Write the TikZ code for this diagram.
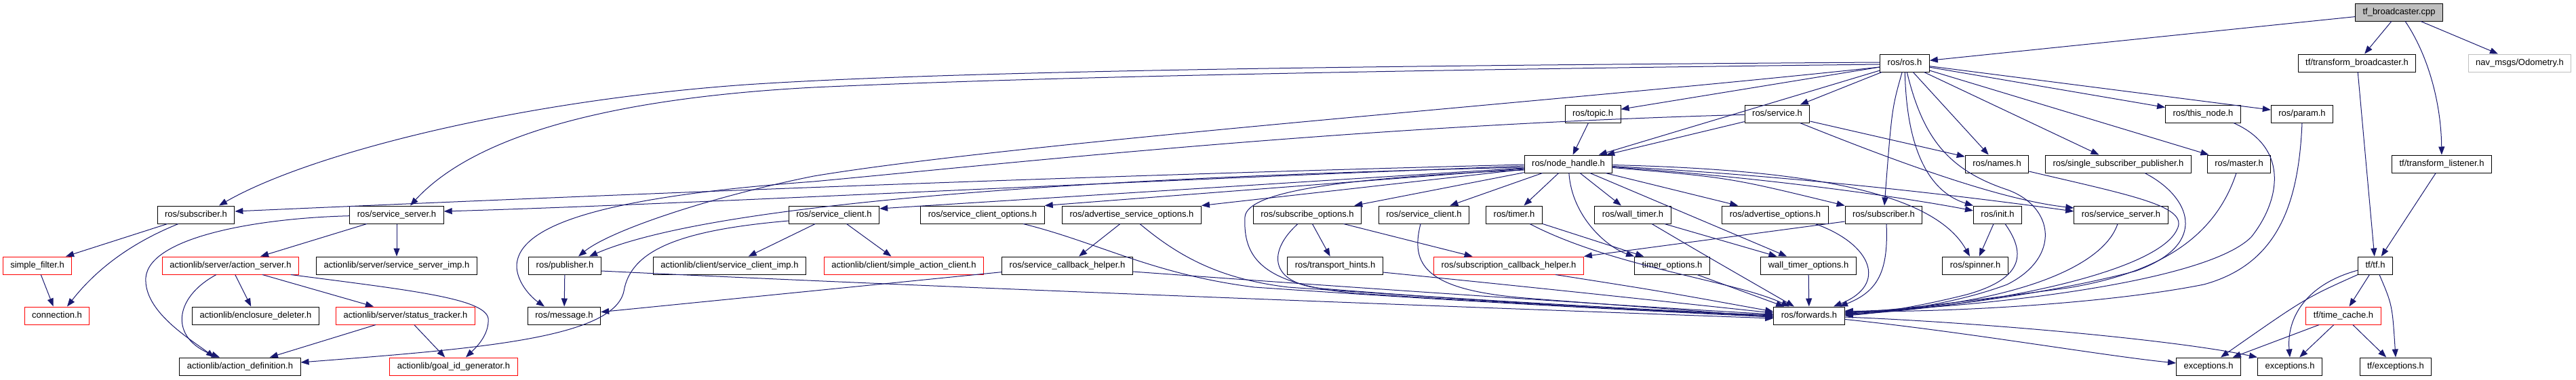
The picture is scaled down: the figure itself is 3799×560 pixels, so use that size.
\documentclass[tikz,border=0pt]{standalone}
\usepackage{fontspec}
\setmainfont{Liberation Sans}
\usetikzlibrary{arrows.meta}
\definecolor{edgeblue}{HTML}{191970}
\definecolor{boxgrey}{HTML}{BFBFBF}
\begin{document}
\begin{tikzpicture}[x=1pt, y=-1pt, font=\fontsize{13}{15}\selectfont,
  hdr/.style={draw=black, line width=1pt, fill=white, minimum height=26pt, inner xsep=11pt, inner ysep=0pt, text height=9.5pt, text depth=2.5pt},
  redhdr/.style={hdr, draw=red},
  greyhdr/.style={hdr, draw=boxgrey},
  srchdr/.style={hdr, fill=boxgrey},
  dep/.style={draw=edgeblue, line width=1pt, -{Triangle[length=12pt,width=9pt]}}]
\fill[white] (0,0) rectangle (3799,560);
\useasboundingbox (0,0) rectangle (3799,560);
\node[srchdr] (tfb) at (3538,18) {tf\_broadcaster.cpp};
\node[greyhdr] (odom) at (3716,93) {nav\_msgs/Odometry.h};
\foreach \n/\x/\y/\l in {ros/2809/93/{ros/ros.h}, tftb/3476/93/{tf/transform\_broadcaster.h}, topic/2349/168/{ros/topic.h}, srv/2621/168/{ros/service.h}, thisnode/3249/168/{ros/this\_node.h}, param/3395/168/{ros/param.h}, nh/2313/242/{ros/node\_handle.h}, names/2945/242/{ros/names.h}, ssp/3124/242/{ros/single\_subscriber\_publisher.h}, master/3302/242/{ros/master.h}, tftl/3601/242/{tf/transform\_listener.h}} {\node[hdr] (\n) at (\x,\y) {\l};}
\foreach \n/\x/\y/\l in {subL/289/317/{ros/subscriber.h}, ssL/585/317/{ros/service\_server.h}, scA/1230/317/{ros/service\_client.h}, sco/1449/317/{ros/service\_client\_options.h}, aso/1669/317/{ros/advertise\_service\_options.h}, subopt/1928/317/{ros/subscribe\_options.h}, scB/2100/317/{ros/service\_client.h}, timer/2233/317/{ros/timer.h}, wtimer/2408/317/{ros/wall\_timer.h}, advopt/2618/317/{ros/advertise\_options.h}, subR/2778/317/{ros/subscriber.h}, init/2946/317/{ros/init.h}, ssR/3128/317/{ros/service\_server.h}} {\node[hdr] (\n) at (\x,\y) {\l};}
\foreach \n/\x/\y/\l in {ssimp/585/392/{actionlib/server/service\_server\_imp.h}, pub/833/392/{ros/publisher.h}, scimp/1076/392/{actionlib/client/service\_client\_imp.h}, sch/1574/392/{ros/service\_callback\_helper.h}, thints/1969/392/{ros/transport\_hints.h}, topts/2466/392/{timer\_options.h}, wtopts/2667/392/{wall\_timer\_options.h}, spinner/2913/392/{ros/spinner.h}, tftf/3503/392/{tf/tf.h}, encl/377/466/{actionlib/enclosure\_deleter.h}, msg/832/466/{ros/message.h}, fwd/2668/466/{ros/forwards.h}, adef/354/541/{actionlib/action\_definition.h}, exc1/3257/541/{exceptions.h}, exc2/3377/541/{exceptions.h}, tfexc/3533/541/{tf/exceptions.h}} {\node[hdr] (\n) at (\x,\y) {\l};}
\foreach \n/\x/\y/\l in {sfilter/55/392/{simple\_filter.h}, aserver/340/392/{actionlib/server/action\_server.h}, sac/1333/392/{actionlib/client/simple\_action\_client.h}, subcb/2225/392/{ros/subscription\_callback\_helper.h}, conn/84/466/{connection.h}, stracker/598/466/{actionlib/server/status\_tracker.h}, tcache/3456/466/{tf/time\_cache.h}, goalid/669/541/{actionlib/goal\_id\_generator.h}} {\node[redhdr] (\n) at (\x,\y) {\l};}
% straight includes
\foreach \a/\b in {tfb/ros, tfb/tftb, tfb/odom, tftb/tftf, tftl/tftf, tftf/tcache, tcache/exc1, tcache/exc2, tcache/tfexc, ros/topic, ros/nh, ros/srv, ros/names, ros/ssp, ros/thisnode, ros/param, ros/master, srv/nh, srv/names, topic/nh, nh/subopt, nh/scB, nh/timer, nh/wtimer, nh/advopt, nh/wtopts, subL/sfilter, sfilter/conn, ssL/aserver, ssL/ssimp, aserver/encl, aserver/stracker, stracker/adef, stracker/goalid, scA/scimp, scA/sac, pub/msg, aso/sch, sch/msg, subopt/thints, subopt/subcb, timer/topts, wtimer/wtopts, wtopts/fwd, topts/fwd, init/spinner} {\draw[dep] (\a) -- (\b);}
% routed includes
\draw[dep] (tfb) .. controls (3580,80) and (3600,150) .. (tftl);
\draw[dep] (tftf.south west) .. controls (3400,440) .. ([xshift=18pt]exc1.north);
\draw[dep] (tftf) .. controls (3400,420) and (3372,470) .. (exc2.north);
\draw[dep] ([xshift=6pt]tftf.south) .. controls (3528,450) .. (tfexc.north);
\draw[dep] (fwd) .. controls (2900,490) and (3100,525) .. ([yshift=5pt]exc1.west);
\draw[dep] (fwd) .. controls (2900,475) and (3200,500) .. (exc2.north west);
\draw[dep] ([yshift=1pt]ros.west) .. controls (2000,97) and (1400,105) .. (1100,125) .. controls (750,150) and (450,230) .. ([xshift=34pt]subL.north);
\draw[dep] ([yshift=-2pt]ros.west) .. controls (2000,104) and (1500,115) .. (1200,129) .. controls (900,145) and (700,200) .. ([xshift=20pt]ssL.north);
\draw[dep] ([yshift=-6pt]ros.west) .. controls (2300,150) and (1500,210) .. (1200,260) .. controls (1050,290) and (900,340) .. ([xshift=20pt]pub.north);
\draw[dep] (ros) .. controls (2790,160) .. (subR);
\draw[dep] (ros) .. controls (2812,230) and (2850,285) .. (init.north west);
\draw[dep] (ros) .. controls (2835,200) and (2870,250) .. (2960,280) .. controls (3030,305) and (3040,380) .. (2960,420) .. controls (2880,450) and (2780,462) .. ([yshift=2pt]fwd.east);
\draw[dep] (srv) .. controls (2000,185) and (1500,240) .. (1200,268) .. controls (900,290) and (760,330) .. (762,395) .. controls (764,420) and (785,440) .. ([xshift=-29pt]msg.north);
\draw[dep] (srv) .. controls (2800,240) and (2950,295) .. ([yshift=10pt]ssR.west);
\draw[dep] ([yshift=-1pt]nh.west) .. controls (1500,262) and (800,292) .. ([yshift=5pt]subL.east);
\draw[dep] ([yshift=-3pt]nh.west) .. controls (1600,270) and (1000,302) .. ([yshift=5pt]ssL.east);
\draw[dep] ([yshift=-5pt]nh.west) .. controls (1600,262) and (1050,300) .. ([xshift=36pt]pub.north);
\draw[dep] ([yshift=-6pt]nh.west) -- ([yshift=9pt]scA.east);
\draw[dep] ([yshift=-7pt]nh.west) -- (sco.north east);
\draw[dep] ([yshift=-8pt]nh.west) -- (aso.north east);
\draw[dep] ([yshift=-9pt]nh.west) .. controls (2000,262) and (1840,280) .. (1836,320) .. controls (1833,380) and (1860,420) .. (2000,433) .. controls (2300,452) and (2500,462) .. (fwd);
\draw[dep] (nh) .. controls (2318,320) and (2370,365) .. (topts.north west);
\draw[dep] (nh) .. controls (2550,262) .. (subR.north west);
\draw[dep] (nh) .. controls (2600,262) and (2800,290) .. ([yshift=6pt]init.west);
\draw[dep] (nh) .. controls (2650,260) and (2900,290) .. ([yshift=5pt]ssR.west);
\draw[dep] (nh) .. controls (2650,250) and (2850,280) .. ([xshift=-8pt]spinner.north);
\draw[dep] (ssL) .. controls (380,322) and (220,350) .. (215,410) .. controls (212,460) and (280,500) .. ([xshift=-38pt]adef.north);
\draw[dep] ([xshift=-21pt]aserver.south) .. controls (255,440) and (250,500) .. ([xshift=-30pt]adef.north);
\draw[dep] ([xshift=89pt]aserver.south) .. controls (600,428) and (715,440) .. (720,470) .. controls (722,495) and (700,515) .. ([xshift=18pt]goalid.north);
\draw[dep] ([xshift=-26pt]subL.south) .. controls (190,360) and (140,400) .. ([xshift=15pt]conn.north);
\draw[dep] ([yshift=-9pt]scA.west) .. controls (1000,340) and (930,370) .. (920,430) .. controls (905,500) and (700,515) .. ([yshift=6pt]adef.east);
\draw[dep] ([yshift=-8pt]pub.east) .. controls (1400,425) and (2200,455) .. ([yshift=-4pt]fwd.west);
\draw[dep] ([xshift=60pt]sco.south) .. controls (1620,358) and (1700,405) .. (1850,424) .. controls (2200,448) and (2450,460) .. ([yshift=-2pt]fwd.west);
\draw[dep] ([xshift=12pt]aso.south) .. controls (1740,380) and (1800,412) .. (1900,424) .. controls (2200,445) and (2450,458) .. (fwd.west);
\draw[dep] ([yshift=-9pt]sch.east) .. controls (2000,425) and (2400,452) .. ([yshift=2pt]fwd.west);
\draw[dep] ([xshift=-14pt]subopt.south) .. controls (1870,370) and (1870,418) .. (1950,426) .. controls (2200,446) and (2450,460) .. ([yshift=-1pt]fwd.west);
\draw[dep] ([xshift=-5pt]scB.south) .. controls (2080,390) and (2100,428) .. (2250,440) .. controls (2400,452) and (2550,462) .. ([yshift=-3pt]fwd.west);
\draw[dep] ([yshift=-10pt]thints.east) .. controls (2300,428) and (2500,450) .. ([yshift=4pt]fwd.west);
\draw[dep] ([xshift=69pt]subcb.south) .. controls (2450,430) .. ([yshift=6pt]fwd.west);
\draw[dep] ([xshift=23pt]timer.south) .. controls (2380,395) and (2560,415) .. ([xshift=-29pt]fwd.north);
\draw[dep] ([xshift=28pt]wtimer.south) .. controls (2520,380) .. ([xshift=-22pt]fwd.north);
\draw[dep] ([xshift=4pt]subR.south) .. controls (2785,400) and (2770,430) .. ([xshift=45pt]fwd.north);
\draw[dep] ([xshift=59pt]advopt.south) .. controls (2760,360) and (2785,420) .. ([xshift=36pt]fwd.north);
\draw[dep] ([yshift=-10pt]subR.west) -- (subcb.north east);
\draw[dep] ([xshift=11pt]init.south) .. controls (2985,370) and (2990,410) .. (2900,435) .. controls (2820,455) and (2760,463) .. (fwd.east);
\draw[dep] ([yshift=-11pt]names.east) .. controls (3150,290) and (3230,305) .. (3210,340) .. controls (3180,400) and (2950,450) .. ([yshift=1pt]fwd.east);
\draw[dep] ([xshift=39pt]ssp.south) .. controls (3230,290) and (3260,360) .. (3150,400) .. controls (3000,440) and (2800,460) .. ([yshift=3pt]fwd.east);
\draw[dep] ([xshift=-5pt]ssR.south) .. controls (3100,400) and (2950,452) .. ([yshift=4pt]fwd.east);
\draw[dep] ([xshift=-4pt]master.south) .. controls (3270,340) and (3200,400) .. (3050,425) .. controls (2900,445) and (2780,460) .. ([yshift=5pt]fwd.east);
\draw[dep] ([xshift=45pt]thisnode.south) .. controls (3380,220) and (3360,300) .. (3320,350) .. controls (3250,420) and (2900,455) .. ([yshift=6pt]fwd.east);
\draw[dep] (param.south) .. controls (3390,300) and (3360,390) .. (3250,420) .. controls (3100,450) and (2850,462) .. ([yshift=7pt]fwd.east);
\end{tikzpicture}
\end{document}
